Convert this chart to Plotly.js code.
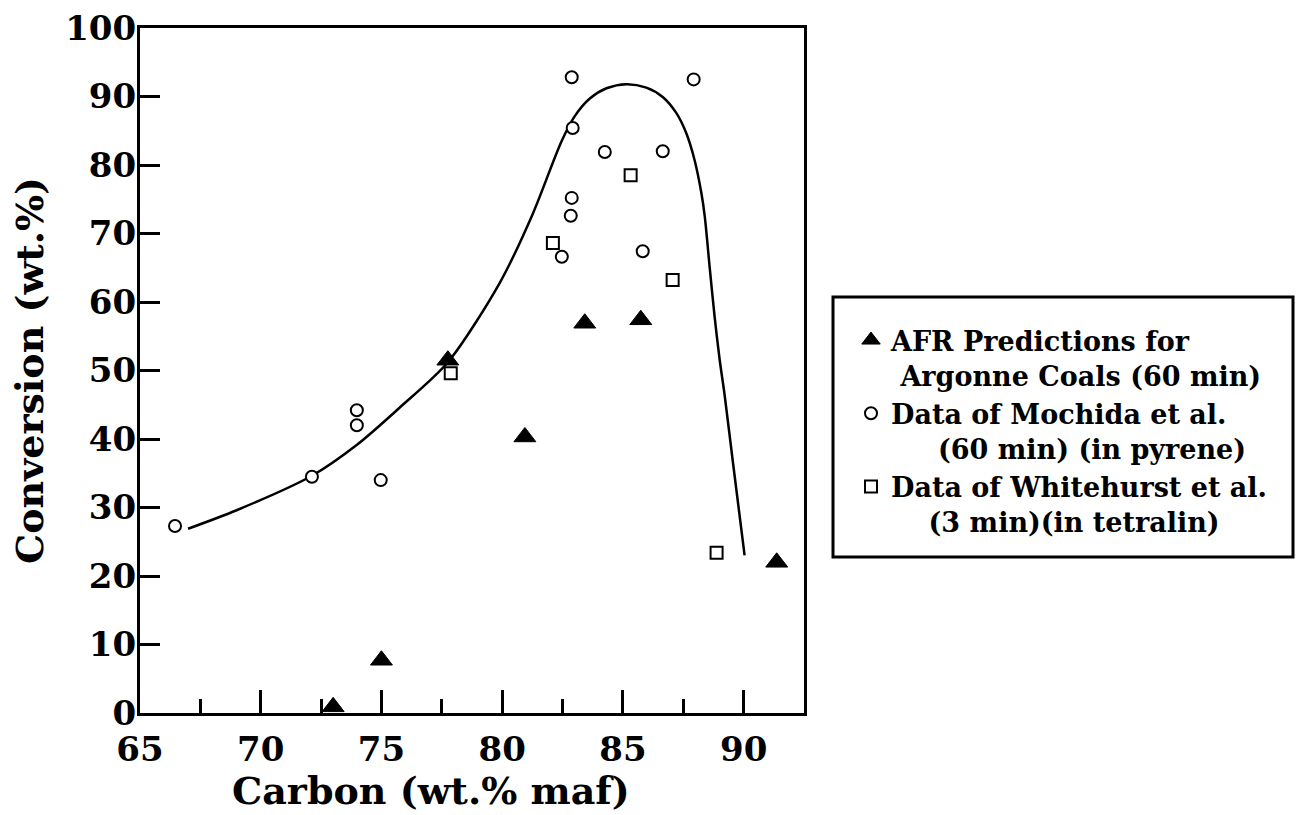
<!DOCTYPE html>
<html>
<head>
<meta charset="utf-8">
<script src="https://cdn.plot.ly/plotly-3.0.1.min.js"></script>
<style>
  html, body { margin: 0; padding: 0; background: #ffffff; }
  #chart { width: 1300px; height: 815px; }
</style>
</head>
<body>
<div id="chart"></div>
<script>
// ---- Data ----
// Hand-drawn trend line
const curveX = [66.99, 69.0, 72.1, 74.0, 75.76, 77.75, 79.9, 81.27, 82.45, 83.0, 83.63, 84.32, 85.14, 85.97, 86.66, 87.21, 87.63, 87.97, 88.25, 88.39, 88.59, 88.80, 89.01, 89.21, 89.56, 90.04];
const curveY = [26.9, 29.6, 34.6, 39.2, 44.6, 51.2, 62.8, 72.9, 83.4, 87.1, 89.7, 91.2, 91.8, 91.3, 89.9, 87.6, 84.6, 80.7, 75.9, 72.5, 65.2, 57.8, 51.5, 46.5, 36.5, 23.0];

// AFR Predictions for Argonne Coals (60 min)
const afrX = [73.0, 75.0, 77.75, 80.94, 83.42, 85.74, 91.37];
const afrY = [0.9, 7.7, 51.5, 40.3, 56.9, 57.4, 22.0];

// Data of Mochida et al. (60 min) (in pyrene)
const mochidaX = [66.45, 72.12, 73.98, 73.98, 74.97, 82.88, 87.93, 82.92, 84.25, 86.65, 82.88, 82.84, 82.47, 85.82];
const mochidaY = [27.3, 34.5, 44.2, 42.0, 34.0, 92.8, 92.5, 85.4, 81.9, 82.0, 75.2, 72.6, 66.6, 67.4];

// Data of Whitehurst et al. (3 min) (in tetralin)
const whitehurstX = [77.87, 82.1, 85.32, 87.06, 88.88];
const whitehurstY = [49.6, 68.6, 78.5, 63.2, 23.4];

// Axis ticks
const xTickVals = [65, 70, 75, 80, 85, 90];
const xTickText = ['65', '70', '75', '80', '85', '90'];
const xMinorVals = [67.5, 72.5, 77.5, 82.5, 87.5];
const yTickVals = [0, 10, 20, 30, 40, 50, 60, 70, 80, 90, 100];
const yTickText = ['0', '10', '20', '30', '40', '50', '60', '70', '80', '90', '100'];

// Text
const xTitle = 'Carbon (wt.% maf)';
const yTitle = 'Conversion (wt.%)';
const nameAFR = 'AFR Predictions for<br>\u00A0Argonne Coals (60 min)';
const nameMochida = 'Data of Mochida et al.<br>\u00A0\u00A0\u00A0\u00A0\u00A0(60 min) (in pyrene)';
const nameWhitehurst = 'Data of Whitehurst et al.<br>\u00A0\u00A0\u00A0\u00A0(3 min)(in tetralin)';

// ---- Styling ----
const FONT = 'DejaVu Serif, Liberation Serif, serif';
const tickFont = { family: FONT, size: 34, color: '#000', weight: 'bold' };

const traces = [
  {
    x: curveX, y: curveY, type: 'scatter', mode: 'lines',
    line: { color: '#000', width: 2.5, shape: 'spline', smoothing: 0.8 },
    showlegend: false, hoverinfo: 'skip'
  },
  {
    x: whitehurstX, y: whitehurstY, type: 'scatter', mode: 'markers',
    name: nameWhitehurst, legendrank: 3,
    marker: { symbol: 'square', size: 12, color: '#fff', line: { color: '#000', width: 2 } }
  },
  {
    x: mochidaX, y: mochidaY, type: 'scatter', mode: 'markers',
    name: nameMochida, legendrank: 2,
    marker: { symbol: 'circle', size: 12, color: '#fff', line: { color: '#000', width: 2 } }
  },
  {
    x: afrX, y: afrY, type: 'scatter', mode: 'markers',
    name: nameAFR, legendrank: 1,
    marker: { symbol: 'triangle-up', size: 19, color: '#000', line: { color: '#000', width: 1 } }
  }
];

const L = 140, R = 804, T = 28, B = 713;
const W = 1300, H = 815;
const pw = R - L, ph = B - T;
function px2x(p) { return (p - L) / pw; }
function py2y(p) { return (B - p) / ph; }

const layout = {
  width: W, height: H,
  paper_bgcolor: '#fff', plot_bgcolor: '#fff',
  margin: { l: L, r: W - R, t: T, b: H - B, autoexpand: false },
  font: { family: FONT, color: '#000' },
  xaxis: {
    range: [65, 92.5],
    tickmode: 'array', tickvals: xTickVals, ticktext: xTickText,
    ticks: 'inside', ticklen: 23, tickwidth: 3, tickcolor: '#000',
    minor: { tickmode: 'array', tickvals: xMinorVals, ticks: 'inside', ticklen: 14, tickwidth: 3, tickcolor: '#000', showgrid: false },
    showline: true, linecolor: '#000', linewidth: 3, mirror: true,
    showgrid: false, zeroline: false,
    tickfont: tickFont, ticklabelstandoff: 4
  },
  yaxis: {
    range: [0, 100],
    tickmode: 'array', tickvals: yTickVals, ticktext: yTickText,
    ticks: 'inside', ticklen: 20, tickwidth: 3, tickcolor: '#000',
    showline: true, linecolor: '#000', linewidth: 3, mirror: true,
    showgrid: false, zeroline: false,
    tickfont: tickFont, ticklabelstandoff: -6,
    title: { text: yTitle, font: { family: FONT, size: 38, color: '#000', weight: 'bold' }, standoff: 10 }
  },
  showlegend: true,
  legend: {
    x: px2x(851), y: py2y(316), xanchor: 'left', yanchor: 'top',
    bgcolor: 'rgba(0,0,0,0)', borderwidth: 0,
    font: { family: FONT, size: 27, color: '#000', weight: 'bold' },
    valign: 'top', itemsizing: 'trace', tracegroupgap: 0
  },
  shapes: [
    {
      type: 'rect', xref: 'paper', yref: 'paper',
      x0: px2x(833), x1: px2x(1293), y0: py2y(557), y1: py2y(297),
      line: { color: '#000', width: 3 }, fillcolor: 'rgba(0,0,0,0)', layer: 'below'
    }
  ],
  annotations: [
    {
      text: xTitle, xref: 'paper', yref: 'paper',
      x: px2x(431), y: py2y(790), xanchor: 'center', yanchor: 'middle',
      showarrow: false,
      font: { family: FONT, size: 38, color: '#000', weight: 'bold' }
    }
  ]
};

Plotly.newPlot('chart', traces, layout, { displayModeBar: false, staticPlot: true });
</script>
</body>
</html>
